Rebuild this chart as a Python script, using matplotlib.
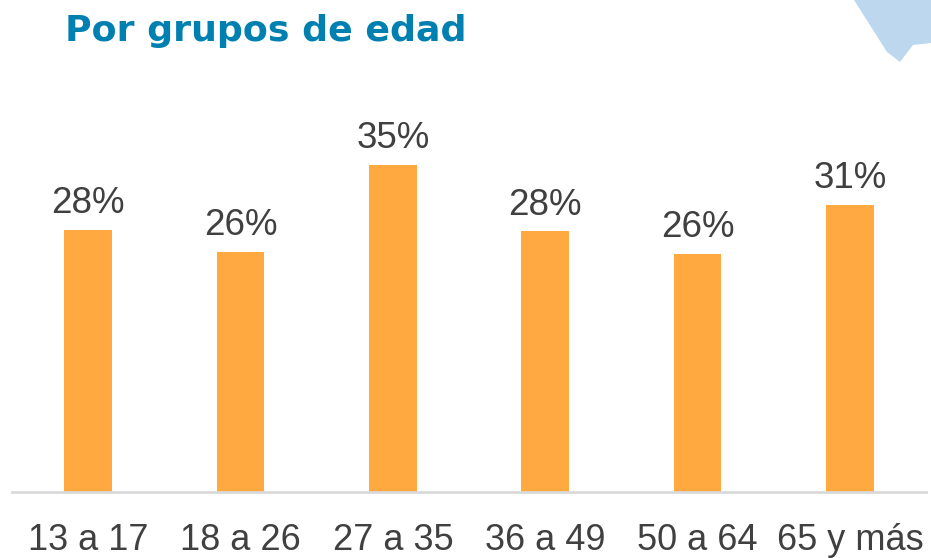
import matplotlib.pyplot as plt
from matplotlib.patches import Polygon

# values (shares of respondents)
groups = ['13 a 17', '18 a 26', '27 a 35', '36 a 49', '50 a 64', '65 y más']
shares = [28.1, 25.7, 35.0, 27.9, 25.5, 30.7]
labels = ['28%', '26%', '35%', '28%', '26%', '31%']

bar_color = '#FFA940'
text_color = '#404040'

plt.rcParams['font.family'] = ['Liberation Sans', 'DejaVu Sans']

fig = plt.figure(figsize=(9.31, 5.58), dpi=100)
ax = fig.add_axes([12 / 931, 66 / 558, 914 / 931, 392 / 558])

x = range(len(groups))
ax.bar(x, shares, width=0.315, color=bar_color, zorder=2)
for i, (v, lab) in enumerate(zip(shares, labels)):
    ax.text(i, v + 1.8, lab, ha='center', va='baseline', fontsize=26.5, color=text_color)

ax.set_xlim(-0.5, len(groups) - 0.5)
ax.set_ylim(0, 392 / 9.34)
ax.set_xticks(list(x))
ax.set_xticklabels(groups, fontsize=26, color=text_color)
ax.tick_params(axis='x', length=0, pad=22)
ax.set_yticks([])
for side in ['top', 'right', 'left']:
    ax.spines[side].set_visible(False)
ax.spines['bottom'].set_color('#D9D9D9')
ax.spines['bottom'].set_linewidth(2)

# title
fig.text(65 / 931, 1 - 41 / 558, 'Por grupos de edad', fontsize=26.2, fontweight='bold',
         color='#0080B0', family='DejaVu Sans', ha='left', va='baseline')

# light blue corner decoration
corner = [(854, 0), (887, 52), (900, 62), (913, 45), (931, 43), (931, 0)]
corner = [(px / 931, 1 - py / 558) for px, py in corner]
fig.patches.append(Polygon(corner, closed=True, transform=fig.transFigure,
                           facecolor='#BDD7EE', edgecolor='none'))

fig.savefig('out.png', dpi=100)
